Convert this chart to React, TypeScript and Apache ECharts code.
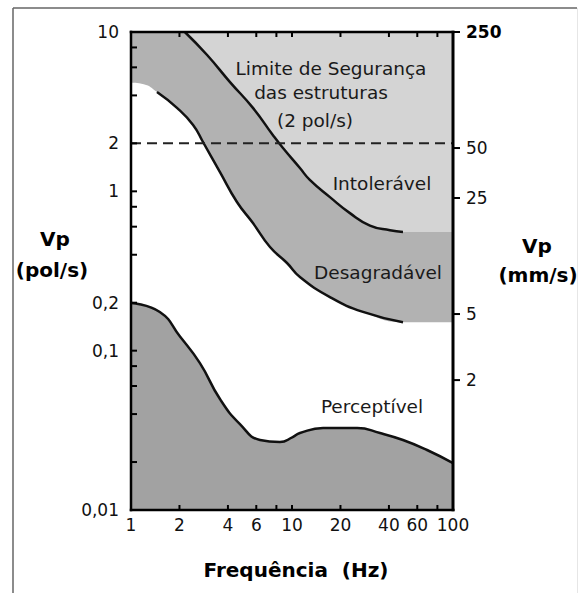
import React, { useEffect, useRef } from "react";
import * as echarts from "echarts";

// Axis ticks / labels
const freqLabels = [1, 2, 4, 6, 10, 20, 40, 60, 100];
const freqTicks = [1, 2, 4, 6, 8, 10, 20, 40, 60, 80, 100];
const vpLabels = [0.01, 0.1, 0.2, 1, 2, 10];
const vpTicks = [0.01, 0.02, 0.04, 0.06, 0.08, 0.1, 0.2, 0.4, 0.6, 0.8, 1, 2, 4, 6, 8, 10];
const mmLabels = [2, 5, 25, 50, 250];

// Axis ranges
const freqMin = 1;
const freqMax = 100;
const vpMin = 0.01;
const vpMax = 10;
const mmMin = 0.33;
const mmMax = 250;

// Upper curve (limite de segurança / intolerável)
const upperHz = [2.16, 2.97, 4.12, 5.72, 7.62, 8.79, 11.2, 12.9, 17.2, 22.9, 30.5, 40.6, 48.9];
const upperVp = [10, 7.17, 4.85, 3.34, 2.25, 1.87, 1.4, 1.18, 0.92, 0.73, 0.61, 0.57, 0.556];
const upperPlateau = 0.556;

// Lower curve (desagradável)
const lowerHz = [1.0, 1.2, 1.45, 1.93, 2.43, 2.8, 3.57, 4.55, 5.72, 7.3, 9.31, 11.2, 17.2, 27.6, 48.9];
const lowerVp = [4.8, 4.7, 4.2, 3.34, 2.61, 2.04, 1.32, 0.857, 0.632, 0.447, 0.355, 0.29, 0.217, 0.175, 0.151];
const lowerPlateau = 0.151;
const lowerLineStart = 2;

// Perceptível curve
const percHz = [1.0, 1.51, 2.01, 2.68, 3.57, 4.75, 6.33, 8.42, 10.1, 11.2, 15.6, 25.4, 35.2, 48.9, 69.0, 100];
const percVp = [0.199, 0.175, 0.123, 0.0835, 0.0497, 0.0346, 0.0275, 0.0267, 0.0287, 0.0304, 0.0327, 0.0327, 0.0304, 0.0275, 0.0238, 0.0197];

// Dashed safety limit
const limitVp = 2;

const lg = Math.log10;
const pts = (hz: number[], vp: number[]) => hz.map((h, i) => [lg(h), lg(vp[i])]);

const FONT = "DejaVu Sans";
const LIGHT = "#d4d4d4";
const MEDIUM = "#b2b2b2";
const DARK = "#a2a2a2";

export default function App() {
  const ref = useRef<HTMLDivElement>(null);
  useEffect(() => {
    document.body.style.margin = "0";
    if (!ref.current) return;
    const chart = echarts.init(ref.current, null, { renderer: "svg" });

    const fmtVp = (v: number) => String(Number(Math.pow(10, v).toPrecision(2))).replace(".", ",");
    const fmtInt = (v: number) => String(Math.round(Math.pow(10, v)));

    const upperFill = [...pts(upperHz, upperVp), [lg(freqMax), lg(upperPlateau)]];
    const lowerFill = [...pts(lowerHz, lowerVp), [lg(freqMax), lg(lowerPlateau)]];
    const percData = pts(percHz, percVp);

    const SMOOTH = 0.5;
    const fillSeries = (data: number[][], color: string, origin: string, z: number) => ({
      type: "line",
      data,
      smooth: SMOOTH,
      showSymbol: false,
      silent: true,
      z,
      lineStyle: { width: 0, opacity: 0 },
      areaStyle: { color, opacity: 1, origin },
    });
    const strokeSeries = (data: number[][], z: number) => ({
      type: "line",
      data,
      smooth: SMOOTH,
      showSymbol: false,
      silent: true,
      z,
      lineStyle: { width: 2.5, color: "#111" },
    });

    const txt = (text: string, x: number, y: number, size: number, bold = false) => ({
      type: "text",
      x,
      y,
      z: 120,
      silent: true,
      style: {
        text,
        fill: bold ? "#000" : "#1a1a1a",
        fontFamily: FONT,
        fontSize: size,
        fontWeight: bold ? "bold" : "normal",
        align: "center",
        verticalAlign: "middle",
      },
    });

    const hiddenLine = { show: false, onZero: false };
    const labelBase = { show: true, color: "#111", fontFamily: FONT, fontSize: 17 };

    chart.setOption({
      animation: false,
      grid: { left: 131, right: 126, top: 32, bottom: 83 },
      xAxis: [
        {
          type: "value",
          min: lg(freqMin),
          max: lg(freqMax),
          position: "bottom",
          splitLine: { show: false },
          axisLine: hiddenLine,
          axisTick: { show: false },
          axisLabel: { ...labelBase, customValues: freqLabels.map(lg), formatter: fmtInt, margin: 6 },
        },
      ],
      yAxis: [
        {
          type: "value",
          position: "left",
          min: lg(vpMin),
          max: lg(vpMax),
          splitLine: { show: false },
          axisLine: hiddenLine,
          axisTick: { show: false },
          axisLabel: { ...labelBase, customValues: vpLabels.map(lg), formatter: fmtVp, margin: 12 },
        },
        {
          type: "value",
          position: "right",
          min: lg(mmMin),
          max: lg(mmMax),
          splitLine: { show: false },
          axisLine: hiddenLine,
          axisTick: { show: false },
          axisLabel: {
            ...labelBase,
            customValues: mmLabels.map(lg),
            formatter: (v: number) => {
              const s = fmtInt(v);
              return Math.round(Math.pow(10, v)) >= 200 ? "{b|" + s + "}" : s;
            },
            margin: 13,
            rich: { b: { fontWeight: "bold", fontFamily: FONT, fontSize: 17, color: "#000" } },
          },
        },
      ],
      series: [
        fillSeries(lowerFill, MEDIUM, "end", 1),
        fillSeries(upperFill, LIGHT, "end", 2),
        fillSeries(percData, DARK, "start", 3),
        strokeSeries(pts(lowerHz, lowerVp).slice(lowerLineStart), 5),
        strokeSeries(pts(upperHz, upperVp), 5),
        strokeSeries(percData, 5),
        {
          type: "line",
          data: [
            [lg(freqMin), lg(limitVp)],
            [lg(freqMax), lg(limitVp)],
          ],
          showSymbol: false,
          silent: true,
          z: 6,
          lineStyle: { color: "#222", width: 2, type: [10, 6] },
        },
      ],
    });

    // Axis frame and ticks drawn above the filled areas, positioned through the chart's own scales
    const toPx = (hz: number, vp: number): number[] => {
      const p = chart.convertToPixel({ gridIndex: 0 }, [lg(hz), lg(vp)]) as unknown as number[];
      return Array.isArray(p) ? p : [NaN, NaN];
    };
    const toPxMm = (hz: number, mm: number): number[] => {
      const p = chart.convertToPixel({ xAxisIndex: 0, yAxisIndex: 1 }, [lg(hz), lg(mm)]) as unknown as number[];
      return Array.isArray(p) ? p : [NaN, NaN];
    };
    const ok = (v: number, fb: number) => (Number.isFinite(v) ? v : fb);

    const xL = ok(toPx(freqMin, vpMin)[0], 131);
    const xR = ok(toPx(freqMax, vpMin)[0], 453);
    const yB = ok(toPx(freqMin, vpMin)[1], 510);
    const yT = ok(toPx(freqMin, vpMax)[1], 32);

    const seg = (x1: number, y1: number, x2: number, y2: number, w: number, color = "#000") => ({
      type: "line",
      z: 110,
      silent: true,
      shape: { x1, y1, x2, y2 },
      style: { stroke: color, lineWidth: w },
    });

    const axisEls: any[] = [
      seg(xL - 1.25, yB, xR + 1.5, yB, 2.5),
      seg(xL - 1.25, yT, xR + 1.5, yT, 2.5),
      seg(xL, yT - 1.25, xL, yB + 1.25, 2.5),
      seg(xR, yT - 1.25, xR, yB + 1.25, 3),
    ];
    freqTicks.forEach((f) => {
      const x = toPx(f, vpMin)[0];
      if (!Number.isFinite(x)) return;
      axisEls.push(seg(x, yB, x, yB - 5, 2));
      axisEls.push(seg(x, yT, x, yT + 5, 2));
    });
    vpTicks.forEach((v) => {
      const y = toPx(freqMin, v)[1];
      if (!Number.isFinite(y)) return;
      axisEls.push(seg(xL, y, xL + 6, y, 2));
    });
    mmLabels.forEach((m) => {
      const y = toPxMm(freqMax, m)[1];
      if (!Number.isFinite(y)) return;
      axisEls.push(seg(xR, y, xR + 7, y, 2));
    });

    chart.setOption({
      graphic: [
        ...axisEls,
        seg(13, 8, 13, 593, 1.5, "#666"),
        seg(13, 8, 577, 8, 1.5, "#666"),
        seg(577.5, 8, 577.5, 593, 1, "#e6e6e6"),
        txt("Vp", 55, 239, 20, true),
        txt("(pol/s)", 52, 270, 20, true),
        txt("Vp", 537, 246, 20, true),
        txt("(mm/s)", 538, 275, 20, true),
        txt("Frequência  (Hz)", 296, 570, 20, true),
        txt("Limite de Segurança", 331, 68, 18.5),
        txt("das estruturas", 321, 92, 18.5),
        txt("(2 pol/s)", 315, 120, 18.5),
        txt("Intolerável", 382, 183, 18.5),
        txt("Desagradável", 378, 272, 18.5),
        txt("Perceptível", 372, 406, 18.5),
      ],
    });

    return () => chart.dispose();
  }, []);

  return <div ref={ref} style={{ width: 579, height: 593 }} />;
}
